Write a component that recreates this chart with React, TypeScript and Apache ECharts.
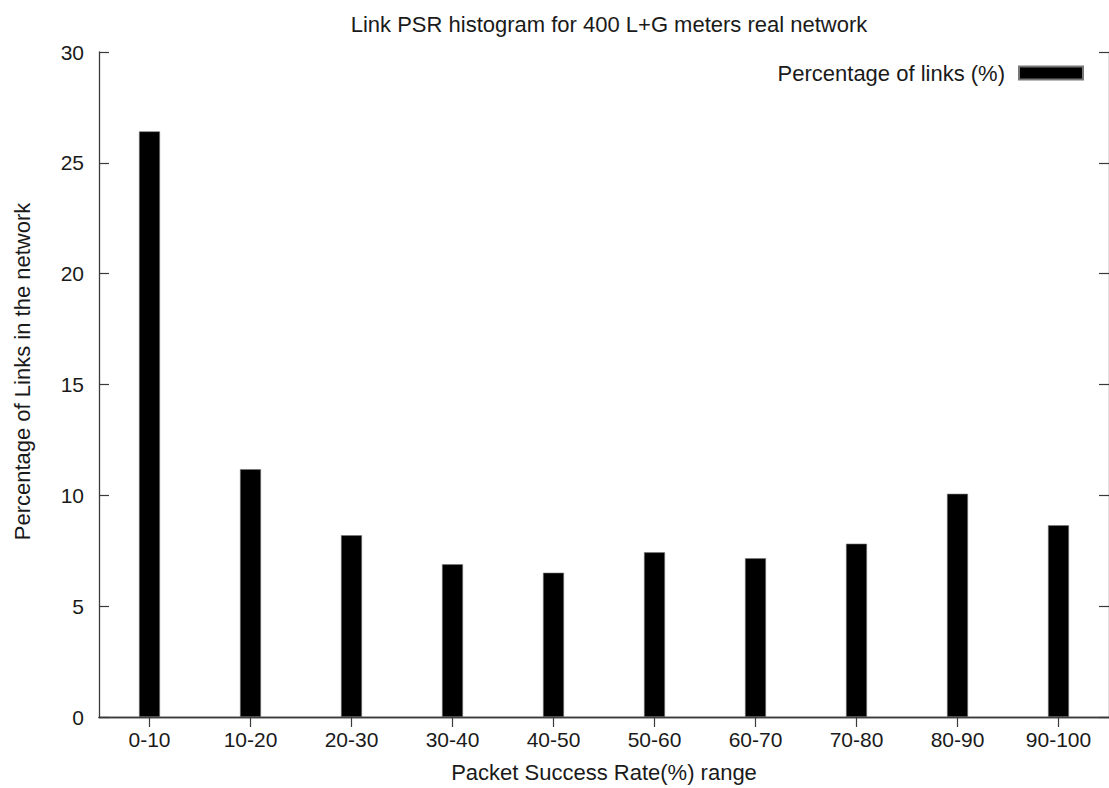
import React, { useEffect, useRef } from "react";
import * as echarts from "echarts";

const categories = ["0-10", "10-20", "20-30", "30-40", "40-50", "50-60", "60-70", "70-80", "80-90", "90-100"];
const percentages = [26.42, 11.18, 8.2, 6.89, 6.51, 7.43, 7.16, 7.82, 10.07, 8.65];
const seriesName = "Percentage of links (%)";
const titleText = "Link PSR histogram for 400 L+G meters real network";
const xName = "Packet Success Rate(%) range";
const yName = "Percentage of Links in the network";

const FONT = "'Liberation Sans', Arial, Helvetica, sans-serif";
const TXT = "#1a1a1a";
const AX = "#3a3a3a";

export default function App() {
  const ref = useRef<HTMLDivElement>(null);
  useEffect(() => {
    document.body.style.margin = "0";
    document.body.style.overflow = "hidden";
    if (!ref.current) return;
    const chart = echarts.init(ref.current, undefined, { renderer: "svg" });
    const axisLine = { show: true, lineStyle: { color: AX, width: 1.3 } };
    chart.setOption({
      animation: false,
      backgroundColor: "#ffffff",
      textStyle: { fontFamily: FONT },
      title: {
        text: titleText,
        left: 604,
        textAlign: "center",
        top: 8,
        textStyle: { fontFamily: FONT, fontSize: 22, fontWeight: "normal", color: TXT },
      },
      legend: {
        data: [seriesName],
        right: 25,
        top: 62,
        padding: 0,
        align: "right",
        icon: "rect",
        itemWidth: 64,
        itemHeight: 13,
        textStyle: { fontFamily: FONT, fontSize: 22, color: TXT, padding: [0, 9, 0, 0] },
      },
      grid: { left: 99, top: 52, width: 1011, height: 666, containLabel: false },
      xAxis: [
        {
          type: "category",
          data: categories,
          position: "bottom",
          boundaryGap: true,
          axisLine,
          axisTick: { show: true, inside: true, alignWithLabel: true, length: 10, lineStyle: { color: AX, width: 1.2 } },
          axisLabel: { fontFamily: FONT, fontSize: 21, color: TXT, margin: 12 },
          name: xName,
          nameLocation: "middle",
          nameGap: 44,
          nameTextStyle: { fontFamily: FONT, fontSize: 22, color: TXT },
          splitLine: { show: false },
        },
        {
          type: "category",
          data: categories,
          position: "top",
          boundaryGap: true,
          axisLine,
          axisTick: { show: true, inside: true, alignWithLabel: true, length: 10, lineStyle: { color: AX, width: 1.2 } },
          axisLabel: { show: false },
          splitLine: { show: false },
        },
      ],
      yAxis: [
        {
          type: "value",
          min: 0,
          max: 30,
          interval: 5,
          position: "left",
          axisLine,
          axisTick: { show: true, inside: true, length: 10, lineStyle: { color: AX, width: 1.2 } },
          axisLabel: { fontFamily: FONT, fontSize: 21, color: TXT, margin: 15 },
          splitLine: { show: false },
          name: yName,
          nameLocation: "middle",
          nameGap: 66,
          nameRotate: 90,
          nameTextStyle: { fontFamily: FONT, fontSize: 22, color: TXT, padding: [0, 0, 0, 26] },
        },
        {
          type: "value",
          min: 0,
          max: 30,
          interval: 5,
          position: "right",
          axisLine,
          axisTick: { show: true, inside: true, length: 10, lineStyle: { color: AX, width: 1.2 } },
          axisLabel: { show: false },
          splitLine: { show: false },
        },
      ],
      series: [
        {
          name: seriesName,
          type: "bar",
          data: percentages,
          xAxisIndex: 0,
          yAxisIndex: 0,
          barWidth: 21,
          itemStyle: { color: "#000000", borderColor: "#777777", borderWidth: 0.6 },
        },
      ],
    });
    return () => chart.dispose();
  }, []);
  return <div ref={ref} style={{ width: 1109, height: 788, background: "#fff" }} />;
}
